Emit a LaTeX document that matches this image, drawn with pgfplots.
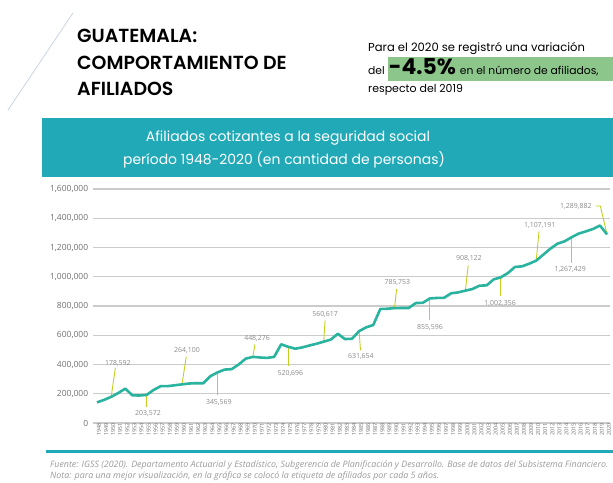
\documentclass[border=0pt]{standalone}
\usepackage{fontspec}
\setmainfont{Open Sans}
\newfontfamily\pop{Poppins}
\newfontfamily\popsb{Poppins SemiBold}
\usepackage{pgfplots}
\pgfplotsset{compat=1.18}
\definecolor{teal1}{HTML}{2AB39E}
\definecolor{band}{HTML}{21A9B8}
\definecolor{callout}{HTML}{C3CF1F}
\definecolor{hl}{HTML}{8DC68B}
\definecolor{diag}{HTML}{C3CFE2}
\definecolor{gridc}{HTML}{CBCBCB}
\definecolor{tickc}{HTML}{6E6E6E}
\definecolor{lab}{HTML}{8A8A8A}
\definecolor{foot}{HTML}{9A9A9A}
\begin{document}
\begin{tikzpicture}[x=1bp,y=1bp]
\path[use as bounding box] (0,0) rectangle (613,483);
\draw[diag, line width=0.7bp] (73,470) -- (8,373);
\node[anchor=base west, font=\popsb\fontsize{19}{20}\selectfont, inner sep=0] at (77,440) {GUATEMALA:};
\node[anchor=base west, font=\popsb\fontsize{19}{20}\selectfont, inner sep=0] at (77,413) {COMPORTAMIENTO DE};
\node[anchor=base west, font=\popsb\fontsize{19}{20}\selectfont, inner sep=0] at (77,387) {AFILIADOS};
\fill[hl] (388,402) rectangle (613,426);
\node[anchor=base west, font=\pop\fontsize{11.6}{12}\selectfont, inner sep=0] at (368,431) {Para el 2020 se registró una variación};
\node[anchor=base west, font=\pop\fontsize{10.8}{12}\selectfont, inner sep=0] at (368,408) {del\hspace{4bp}{\bfseries\fontsize{22}{22}\selectfont -4.5\%}\hspace{4bp}en el número de afiliados,};
\node[anchor=base west, font=\pop\fontsize{11}{12}\selectfont, inner sep=0] at (368,390) {respecto del 2019};
\fill[band] (42,306) rectangle (613,365);
\node[anchor=center, text=white, font=\pop\fontsize{14}{15}\selectfont, inner sep=0] at (288,345) {Afiliados cotizantes a la seguridad social};
\node[anchor=center, text=white, font=\pop\fontsize{14}{15}\selectfont, inner sep=0] at (284,323) {período 1948-2020 (en cantidad de personas)};
\draw[band, line width=3bp] (46,31) -- (613,31);
\node[anchor=base west, text=foot, font=\itshape\fontsize{8.9}{9}\selectfont, inner sep=0] at (50,15) {Fuente: IGSS (2020). Departamento Actuarial y Estadístico, Subgerencia de Planificación y Desarrollo. Base de datos del Subsistema Financiero.};
\node[anchor=base west, text=foot, font=\itshape\fontsize{8.9}{9}\selectfont, inner sep=0] at (50,4) {Nota: para una mejor visualización, en la gráfica se colocó la etiqueta de afiliados por cada 5 años.};
\begin{axis}[at={(93.3bp,60bp)}, anchor=south west, scale only axis,
  width=516.7bp, height=234bp,
  xmin=1947.48, xmax=2020.42, ymin=0, ymax=1600000,
  axis line style={draw=none}, major tick length=0pt,
  ytick={0,200000,400000,600000,800000,1000000,1200000,1400000,1600000},
  xtick={1948,1949,...,2020},
  ymajorgrids, grid style={gridc, line width=1.1bp},
  clip=false, scaled y ticks=false,
  yticklabel style={font=\fontsize{8.5}{9}\selectfont, text=tickc, inner sep=0pt, xshift=-5bp, anchor=east},
  xticklabel style={rotate=90, anchor=east, font=\fontsize{5.5}{6}\selectfont, text=tickc, inner sep=0pt, yshift=-2bp, /pgf/number format/1000 sep={}},
  /pgf/number format/.cd, assume math mode=true, fixed, precision=0, 1000 sep={,}]
\draw[callout, line width=0.9bp] (axis cs:1950,178592) -- (axis cs:1950.6,378000);
\draw[callout, line width=0.9bp] (axis cs:1955,192000) -- (axis cs:1955,112000);
\draw[callout, line width=0.9bp] (axis cs:1960,264100) -- (axis cs:1960.6,452000);
\draw[callout, line width=0.9bp] (axis cs:1965,345569) -- (axis cs:1965,192000);
\draw[callout, line width=0.9bp] (axis cs:1970,452000) -- (axis cs:1970.3,537000);
\draw[callout, line width=0.9bp] (axis cs:1975,520696) -- (axis cs:1975,390000);
\draw[callout, line width=0.9bp] (axis cs:1980,556000) -- (axis cs:1980.2,702000);
\draw[callout, line width=0.9bp] (axis cs:1985,628000) -- (axis cs:1985.2,497000);
\draw[callout, line width=0.9bp] (axis cs:1990,785753) -- (axis cs:1990.3,916000);
\draw[callout, line width=0.9bp] (axis cs:1995,852000) -- (axis cs:1995,706000);
\draw[callout, line width=0.9bp] (axis cs:2000,905000) -- (axis cs:2000.4,1076000);
\draw[callout, line width=0.9bp] (axis cs:2005,996000) -- (axis cs:2005,866000);
\draw[callout, line width=0.9bp] (axis cs:2010,1110000) -- (axis cs:2010.4,1310000);
\draw[callout, line width=0.9bp] (axis cs:2015,1270000) -- (axis cs:2015,1094000);
\draw[callout, line width=0.9bp] (axis cs:2018.4,1484000) -- (axis cs:2019.05,1484000) -- (axis cs:2020,1289882);
\addplot[teal1, line width=2.6bp, line join=round] table {
x y
1948 141000
1949 158000
1950 178592
1951 205000
1952 235000
1953 189000
1954 188000
1955 192000
1956 226000
1957 252000
1958 252000
1959 258000
1960 264100
1961 270000
1962 272000
1963 272000
1964 320000
1965 345569
1966 365000
1967 368000
1968 400000
1969 440000
1970 452000
1971 448000
1972 445000
1973 452000
1974 538000
1975 520696
1976 508000
1977 517000
1978 530000
1979 542000
1980 556000
1981 570000
1982 610000
1983 574000
1984 576000
1985 628000
1986 654000
1987 670000
1988 780000
1989 781000
1990 785753
1991 786000
1992 786000
1993 820000
1994 822000
1995 852000
1996 855000
1997 856000
1998 887000
1999 893000
2000 905000
2001 916000
2002 939000
2003 941000
2004 982000
2005 996000
2006 1025000
2007 1067000
2008 1071000
2009 1089000
2010 1110000
2011 1151000
2012 1192000
2013 1226000
2014 1242000
2015 1270000
2016 1295000
2017 1310000
2018 1326000
2019 1350000
2020 1289882
};
\node[text=lab, font=\fontsize{7}{7}\selectfont] at (axis cs:1950.95,410000) {178,592};
\node[text=lab, font=\fontsize{7}{7}\selectfont] at (axis cs:1955.2,66000) {203,572};
\node[text=lab, font=\fontsize{7}{7}\selectfont] at (axis cs:1960.7,494000) {264,100};
\node[text=lab, font=\fontsize{7}{7}\selectfont] at (axis cs:1965.2,141000) {345,569};
\node[text=lab, font=\fontsize{7}{7}\selectfont] at (axis cs:1970.6,577000) {448,276};
\node[text=lab, font=\fontsize{7}{7}\selectfont] at (axis cs:1975.3,340000) {520,696};
\node[text=lab, font=\fontsize{7}{7}\selectfont] at (axis cs:1980.2,741000) {560,617};
\node[text=lab, font=\fontsize{7}{7}\selectfont] at (axis cs:1985.25,454000) {631,654};
\node[text=lab, font=\fontsize{7}{7}\selectfont] at (axis cs:1990.4,960000) {785,753};
\node[text=lab, font=\fontsize{7}{7}\selectfont] at (axis cs:1995.0,652000) {855,596};
\node[text=lab, font=\fontsize{7}{7}\selectfont] at (axis cs:2000.5,1123000) {908,122};
\node[text=lab, font=\fontsize{7}{7}\selectfont] at (axis cs:2004.9,820000) {1,002,356};
\node[text=lab, font=\fontsize{7}{7}\selectfont] at (axis cs:2010.5,1354000) {1,107,191};
\node[text=lab, font=\fontsize{7}{7}\selectfont] at (axis cs:2014.8,1051000) {1,267,429};
\node[text=lab, font=\fontsize{7}{7}\selectfont] at (axis cs:2015.6,1484000) {1,289,882};
\end{axis}
\end{tikzpicture}
\end{document}
